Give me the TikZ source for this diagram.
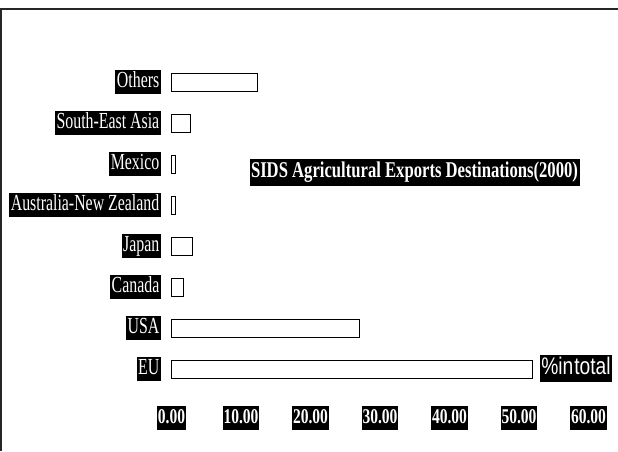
\documentclass[tikz,border=0pt]{standalone}
\usepackage{fontspec}
\setmainfont{Liberation Serif}
\newfontfamily\condserif[FakeStretch=0.69]{Liberation Serif}
\newfontfamily\condserifb[FakeStretch=0.74]{Liberation Serif}
\newfontfamily\condsans[FakeStretch=0.8]{Liberation Sans}
\begin{document}
\begin{tikzpicture}[x=1pt,y=-1pt,
  catlabel/.style={fill=black,text=white,anchor=east,inner xsep=1.5pt,inner ysep=1.25pt,
    text height=16.5pt,text depth=5pt,font=\condserif\fontsize{23}{24}\selectfont},
  ticklabel/.style={fill=black,text=white,inner xsep=1pt,inner ysep=1.5pt,
    text height=15.5pt,text depth=5pt,font=\condserifb\bfseries\fontsize{21}{22}\selectfont},
  titlebox/.style={fill=black,text=white,inner xsep=1.5pt,inner ysep=2pt,
    text height=17pt,text depth=6pt,font=\condserifb\bfseries\fontsize{22.5}{23}\selectfont},
  unitbox/.style={fill=black,text=white,inner xsep=1pt,inner ysep=2pt,
    text height=18pt,text depth=5pt,font=\condsans\fontsize{24}{25}\selectfont},
  bar/.style={draw=black,line width=0.9pt,fill=white},
  frameline/.style={draw=black!85,line width=2pt}]
\useasboundingbox (0,0) rectangle (618,451);
\fill[white] (0,0) rectangle (618,451);
% frame
\coordinate (ftl) at (1,9);
\coordinate (ftr) at (618,9);
\coordinate (fbl) at (1,451);
\draw[frameline] (ftr) -- (ftl) -- (fbl);
% scale: 0 at 171.5, 6.95 per unit
\def\xz{171.5}
\def\ux{6.95}
\def\bh{9}
\foreach \name/\lab/\val/\yc in {
  oth/Others/12.3/82,
  sea/South-East Asia/2.7/123,
  mex/Mexico/0.5/164,
  anz/Australia-New Zealand/0.5/205,
  jap/Japan/3.0/246,
  can/Canada/1.7/287,
  usa/USA/27.0/328,
  eu/EU/51.9/369}{
  \node[catlabel] (l-\name) at (161,\yc) {\lab};
  \draw[bar] (\xz,\yc-\bh) rectangle ({\xz+\val*\ux},\yc+\bh);
  \node[inner sep=0pt] (b-\name) at ({\xz+\val*\ux},\yc) {};
}
% ticks
\foreach \v/\t in {0/0.00,1/10.00,2/20.00,3/30.00,4/40.00,5/50.00,6/60.00}{
  \node[ticklabel] (t\v) at ({\xz+\v*69.5},418) {\t};
}
% title
\node[titlebox] (title) at (414.5,172) {SIDS Agricultural Exports Destinations(2000)};
% unit label
\node[unitbox] (unit) at (576,368) {\%in\kern1pt total};
\end{tikzpicture}
\end{document}
